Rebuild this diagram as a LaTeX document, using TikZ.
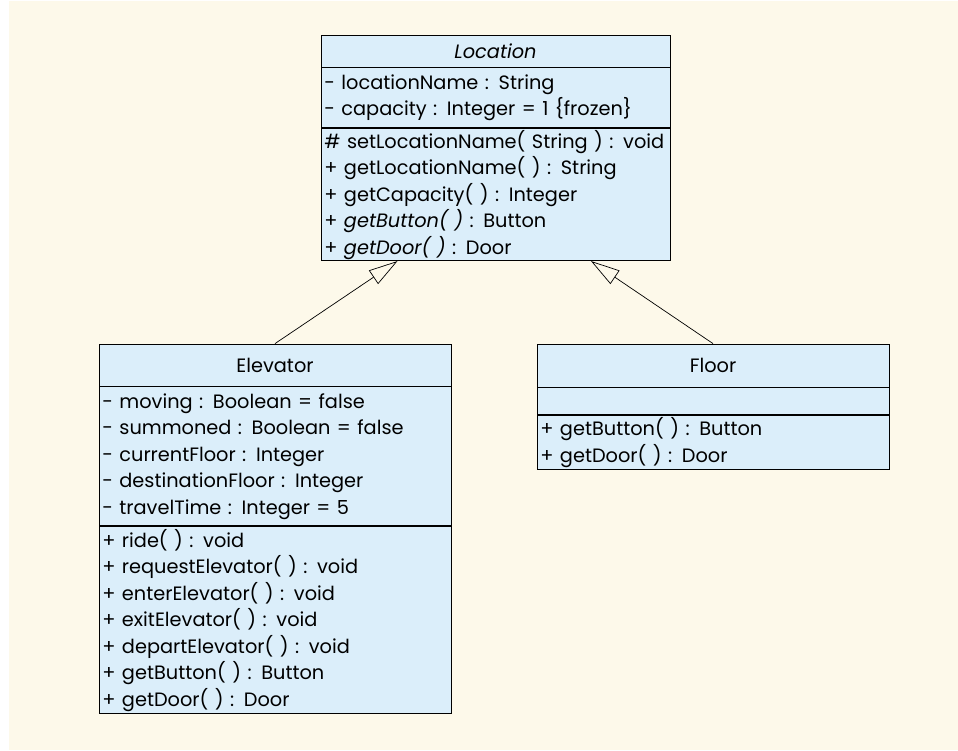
\documentclass[tikz,border=0pt]{standalone}
\usepackage{fontspec}
\setmainfont{Poppins}
\usetikzlibrary{positioning,arrows.meta}
\definecolor{cream}{HTML}{FDF9EA}
\definecolor{classblue}{HTML}{DBEEFA}
\begin{document}
\begin{tikzpicture}[x=0.03cm, y=-0.03cm, font=\fontsize{16.5}{22.6}\selectfont]

\tikzstyle{box1}=[rectangle, draw, fill=classblue, line width=0.7pt, inner sep=0pt, text centered]
\tikzstyle{box2}=[rectangle, draw, fill=classblue, line width=0.7pt, inner xsep=0.1cm, inner ysep=0pt, align=left]
\tikzstyle{arrow}=[-{Triangle[open, length=0.87cm, width=0.49cm]}, line width=0.6pt]

\useasboundingbox (0,0) rectangle (958,750);
\fill [cream] (9,1) rectangle (958,750);

\node (L) [box1, minimum width=10.47cm, minimum height=0.96cm] at (495.5,51) {\textit{Location}};
\node (La) [box2, text width=10.27cm, minimum height=1.8cm, below=0pt of L] {- locationName : String\\- capacity : Integer = 1 \{frozen\}};
\node (Lm) [box2, text width=10.27cm, minimum height=3.96cm, below=0pt of La] {\# setLocationName( String ) : void\\+ getLocationName( ) : String\\+ getCapacity( ) : Integer\\+ \textit{getButton( )} : Button\\+ \textit{getDoor( )} : Door};

\node (E) [box1, minimum width=10.56cm, minimum height=1.26cm] at (275,365) {Elevator};
\node (Ea) [box2, text width=10.36cm, minimum height=4.17cm, below=0pt of E] {- moving : Boolean = false\\- summoned : Boolean = false\\- currentFloor : Integer\\- destinationFloor : Integer\\- travelTime : Integer = 5};
\node (Em) [box2, text width=10.36cm, minimum height=5.61cm, below=0pt of Ea] {+ ride( ) : void\\+ requestElevator( ) : void\\+ enterElevator( ) : void\\+ exitElevator( ) : void\\+ departElevator( ) : void\\+ getButton( ) : Button\\+ getDoor( ) : Door};

\node (F) [box1, minimum width=10.56cm, minimum height=1.29cm] at (713,365.5) {Floor};
\node (Fa) [box2, text width=10.36cm, minimum height=0.81cm, below=0pt of F] {};
\node (Fm) [box2, text width=10.36cm, minimum height=1.62cm, below=0pt of Fa] {+ getButton( ) : Button\\+ getDoor( ) : Door};

\coordinate (LE) at ([xshift=-2.94cm]Lm.south);
\coordinate (LF) at ([xshift=2.865cm]Lm.south);

\draw [arrow] (E.north) -- (LE);
\draw [arrow] (F.north) -- (LF);

\end{tikzpicture}
\end{document}
